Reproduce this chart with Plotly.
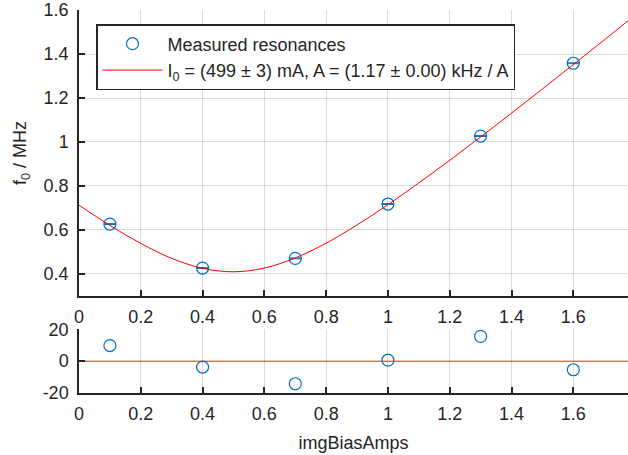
import plotly.graph_objects as go

# Measured data (x in A, f0 in MHz)
meas_x = [0.1, 0.4, 0.7, 1.0, 1.3, 1.6]
meas_f0 = [0.627, 0.427, 0.471, 0.718, 1.027, 1.358]
meas_err = [0.002, 0.002, 0.002, 0.002, 0.002, 0.002]

# Fit curve
fit_x = [0.0, 0.1, 0.2, 0.3, 0.4, 0.5, 0.6, 0.7, 0.8, 0.9, 1.0, 1.1, 1.2, 1.3, 1.4, 1.5, 1.6, 1.7, 1.78]
fit_f0 = [0.713, 0.621, 0.539, 0.471, 0.426, 0.410, 0.427, 0.473, 0.540, 0.623, 0.715,
          0.814, 0.917, 1.023, 1.131, 1.241, 1.352, 1.464, 1.554]

# Residuals (kHz)
resid = [9.8, -3.7, -14.2, 0.6, 15.6, -5.4]
resid_zero = 0

x_ticks = [0, 0.2, 0.4, 0.6, 0.8, 1.0, 1.2, 1.4, 1.6]
x_ticktext = ["0", "0.2", "0.4", "0.6", "0.8", "1", "1.2", "1.4", "1.6"]
y_ticks = [0.4, 0.6, 0.8, 1.0, 1.2, 1.4, 1.6]
y_ticktext = ["0.4", "0.6", "0.8", "1", "1.2", "1.4", "1.6"]
r_ticks = [-20, 0, 20]
r_ticktext = ["-20", "0", "20"]

BLUE = "#0072BD"
AX = "#262626"
GRID = "rgba(38,38,38,0.17)"
FONT = "Liberation Sans, Arial, sans-serif"
FS = 18

fig = go.Figure()

fig.add_trace(go.Scatter(
    x=meas_x, y=meas_f0, mode="markers", name="Measured resonances",
    marker=dict(symbol="circle-open", size=12, color=BLUE, line=dict(width=1.2, color=BLUE)),
    error_y=dict(type="data", array=meas_err, visible=True, color=BLUE, thickness=1, width=6),
    xaxis="x", yaxis="y",
))
fig.add_trace(go.Scatter(
    x=fit_x, y=fit_f0, mode="lines", line=dict(color="#FF0000", width=1, shape="spline"),
    name="I<sub>0</sub> = (499 ± 3) mA, A = (1.17 ± 0.00) kHz / A",
    xaxis="x", yaxis="y",
))
fig.add_trace(go.Scatter(
    x=meas_x, y=resid, mode="markers", showlegend=False,
    marker=dict(symbol="circle-open", size=12, color=BLUE, line=dict(width=1.2, color=BLUE)),
    xaxis="x2", yaxis="y2",
))

fig.add_shape(type="line", xref="x2 domain", yref="y2", x0=0, x1=1,
              y0=resid_zero, y1=resid_zero, line=dict(color="#D95319", width=1), layer="below")

common_x = dict(
    range=[0, 1.777], tickvals=x_ticks, ticktext=x_ticktext,
    showline=True, linecolor=AX, linewidth=1.5, mirror=False,
    ticks="inside", ticklen=6, tickwidth=1.5, tickcolor=AX,
    showgrid=True, gridcolor=GRID, gridwidth=1, zeroline=False,
    tickfont=dict(family=FONT, size=FS, color=AX), automargin=False,
    ticklabelstandoff=4,
)

fig.update_layout(
    width=628, height=455,
    margin=dict(l=79, r=0, t=10, b=62),
    paper_bgcolor="white", plot_bgcolor="white",
    font=dict(family=FONT, size=FS, color=AX),
    xaxis=dict(domain=[0, 1], anchor="y", **common_x),
    yaxis=dict(
        domain=[0.2533, 1], anchor="x", range=[0.3, 1.6], tickvals=y_ticks, ticktext=y_ticktext,
        showline=True, linecolor=AX, linewidth=1.5,
        ticks="inside", ticklen=6, tickwidth=1.5, tickcolor=AX,
        showgrid=True, gridcolor=GRID, zeroline=False, automargin=False,
        tickfont=dict(family=FONT, size=FS, color=AX), ticklabelstandoff=5,
        title=dict(text="f<sub>0</sub> / MHz", font=dict(family=FONT, size=FS, color=AX), standoff=12),
    ),
    xaxis2=dict(domain=[0, 1], anchor="y2",
                title=dict(text="imgBiasAmps", font=dict(family=FONT, size=FS, color=AX), standoff=13),
                **common_x),
    yaxis2=dict(
        domain=[0, 0.1663], anchor="x2", range=[-20, 20], tickvals=r_ticks, ticktext=r_ticktext,
        showline=True, linecolor=AX, linewidth=1.5,
        ticks="inside", ticklen=6, tickwidth=1.5, tickcolor=AX,
        showgrid=True, gridcolor=GRID, zeroline=False, automargin=False,
        tickfont=dict(family=FONT, size=FS, color=AX), ticklabelstandoff=5,
    ),
    legend=dict(
        x=(96 - 79) / 549, y=(393 - 24) / 383, xanchor="left", yanchor="top",
        bgcolor="white", bordercolor=AX, borderwidth=1.5,
        font=dict(family=FONT, size=18, color=AX),
        itemwidth=60, tracegroupgap=0,
    ),
    showlegend=True,
)

fig.write_html("out.html", config={"displayModeBar": False},
               post_script="document.body.style.margin='0';")
